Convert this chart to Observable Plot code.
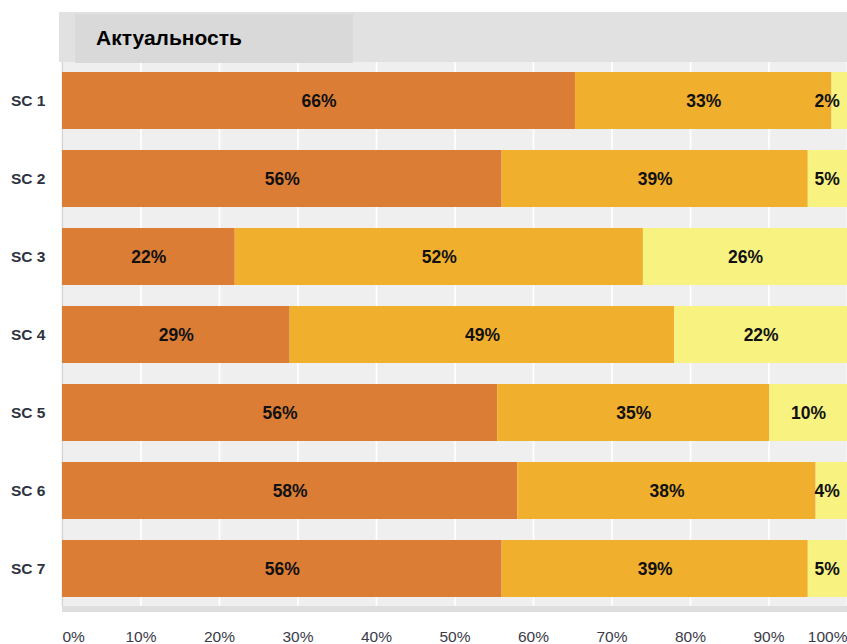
<!DOCTYPE html>
<html>
<head>
<meta charset="utf-8">
<script src="https://cdn.jsdelivr.net/npm/d3@7"></script>
<script src="https://cdn.jsdelivr.net/npm/@observablehq/plot@0.6"></script>
<style>
  html, body { margin: 0; padding: 0; background: #fff; }
  #wrap { position: relative; width: 847px; height: 644px; overflow: hidden; font-family: "Liberation Sans", Arial, sans-serif; }
  #hdr { position: absolute; left: 59px; top: 12px; width: 788px; height: 50px; background: #e1e1e1; }
  #hdrIn { position: absolute; left: 75px; top: 14px; width: 278px; height: 49px; background: #d9d9d9; }
  #title { position: absolute; left: 96px; top: 26px; font-size: 21px; font-weight: bold; color: #000; }
  #strip { position: absolute; left: 62px; top: 606px; width: 785px; height: 6px; background: #dedede; }
  #chart { position: absolute; left: 0; top: 0; }
</style>
</head>
<body>
<div id="wrap">
  <div id="chart"></div>
  <div id="strip"></div>
  <div id="hdr"></div>
  <div id="hdrIn"></div>
  <div id="title">Актуальность</div>
</div>
<script>
const categories = ["SC 1", "SC 2", "SC 3", "SC 4", "SC 5", "SC 6", "SC 7"];
const seriesNames = ["s1", "s2", "s3"];
const s1 = [66, 56, 22, 29, 56, 58, 56];
const s2 = [33, 39, 52, 49, 35, 38, 39];
const s3 = [2, 5, 26, 22, 10, 4, 5];
const tickValues = [0, 0.1, 0.2, 0.3, 0.4, 0.5, 0.6, 0.7, 0.8, 0.9, 1];
const colors = ["#dc7d36", "#f0b02d", "#f8f281"];

const seriesArrays = [s1, s2, s3];
const rows = [];
categories.forEach((c, i) => {
  const total = s1[i] + s2[i] + s3[i];
  let acc = 0;
  seriesArrays.forEach((arr, k) => {
    const v = arr[i];
    const start = acc / total;
    acc += v;
    const end = acc / total;
    rows.push({ sc: c, series: seriesNames[k], value: v, x1: start, x2: end, mid: Math.min((start + end) / 2, 0.974) });
  });
});

const fmt = d => Math.round(d * 100) + "%";

const plot = Plot.plot({
  width: 847,
  height: 644,
  marginTop: 61,
  marginBottom: 37,
  marginLeft: 62,
  marginRight: 0,
  style: { fontFamily: "'Liberation Sans', Arial, sans-serif", background: "transparent" },
  x: { domain: [0, 1] },
  y: { domain: categories, paddingInner: 0.272, paddingOuter: 0.128, axis: null, label: null },
  color: { domain: seriesNames, range: colors },
  marks: [
    Plot.frame({ fill: "#efefef", stroke: null }),
    Plot.gridX(tickValues, { stroke: "#fff", strokeOpacity: 1, strokeWidth: 1.6 }),
    Plot.ruleX([0], { stroke: "#d4d4d4", strokeWidth: 1.5 }),
    Plot.barX(rows, { x1: "x1", x2: "x2", y: "sc", fill: "series" }),
    Plot.text(rows, { x: "mid", y: "sc", text: d => d.value + "%", fontWeight: "bold", fontSize: 17.5, fill: "#111" }),
    Plot.axisY({ tickSize: 0, tickPadding: 17, fontWeight: "bold", fontSize: 15.5, fill: "#2d3340", label: null }),
    Plot.axisX(tickValues.slice(1, -1), { tickSize: 0, tickPadding: 23, fontSize: 15.5, fill: "#3a3a48", tickFormat: fmt, label: null }),
    Plot.axisX([0], { tickSize: 0, tickPadding: 23, fontSize: 15.5, fill: "#3a3a48", tickFormat: fmt, textAnchor: "start", label: null }),
    Plot.axisX([1], { tickSize: 0, tickPadding: 23, fontSize: 15.5, fill: "#3a3a48", tickFormat: fmt, textAnchor: "end", label: null })
  ]
});
document.getElementById("chart").appendChild(plot);
</script>
</body>
</html>
